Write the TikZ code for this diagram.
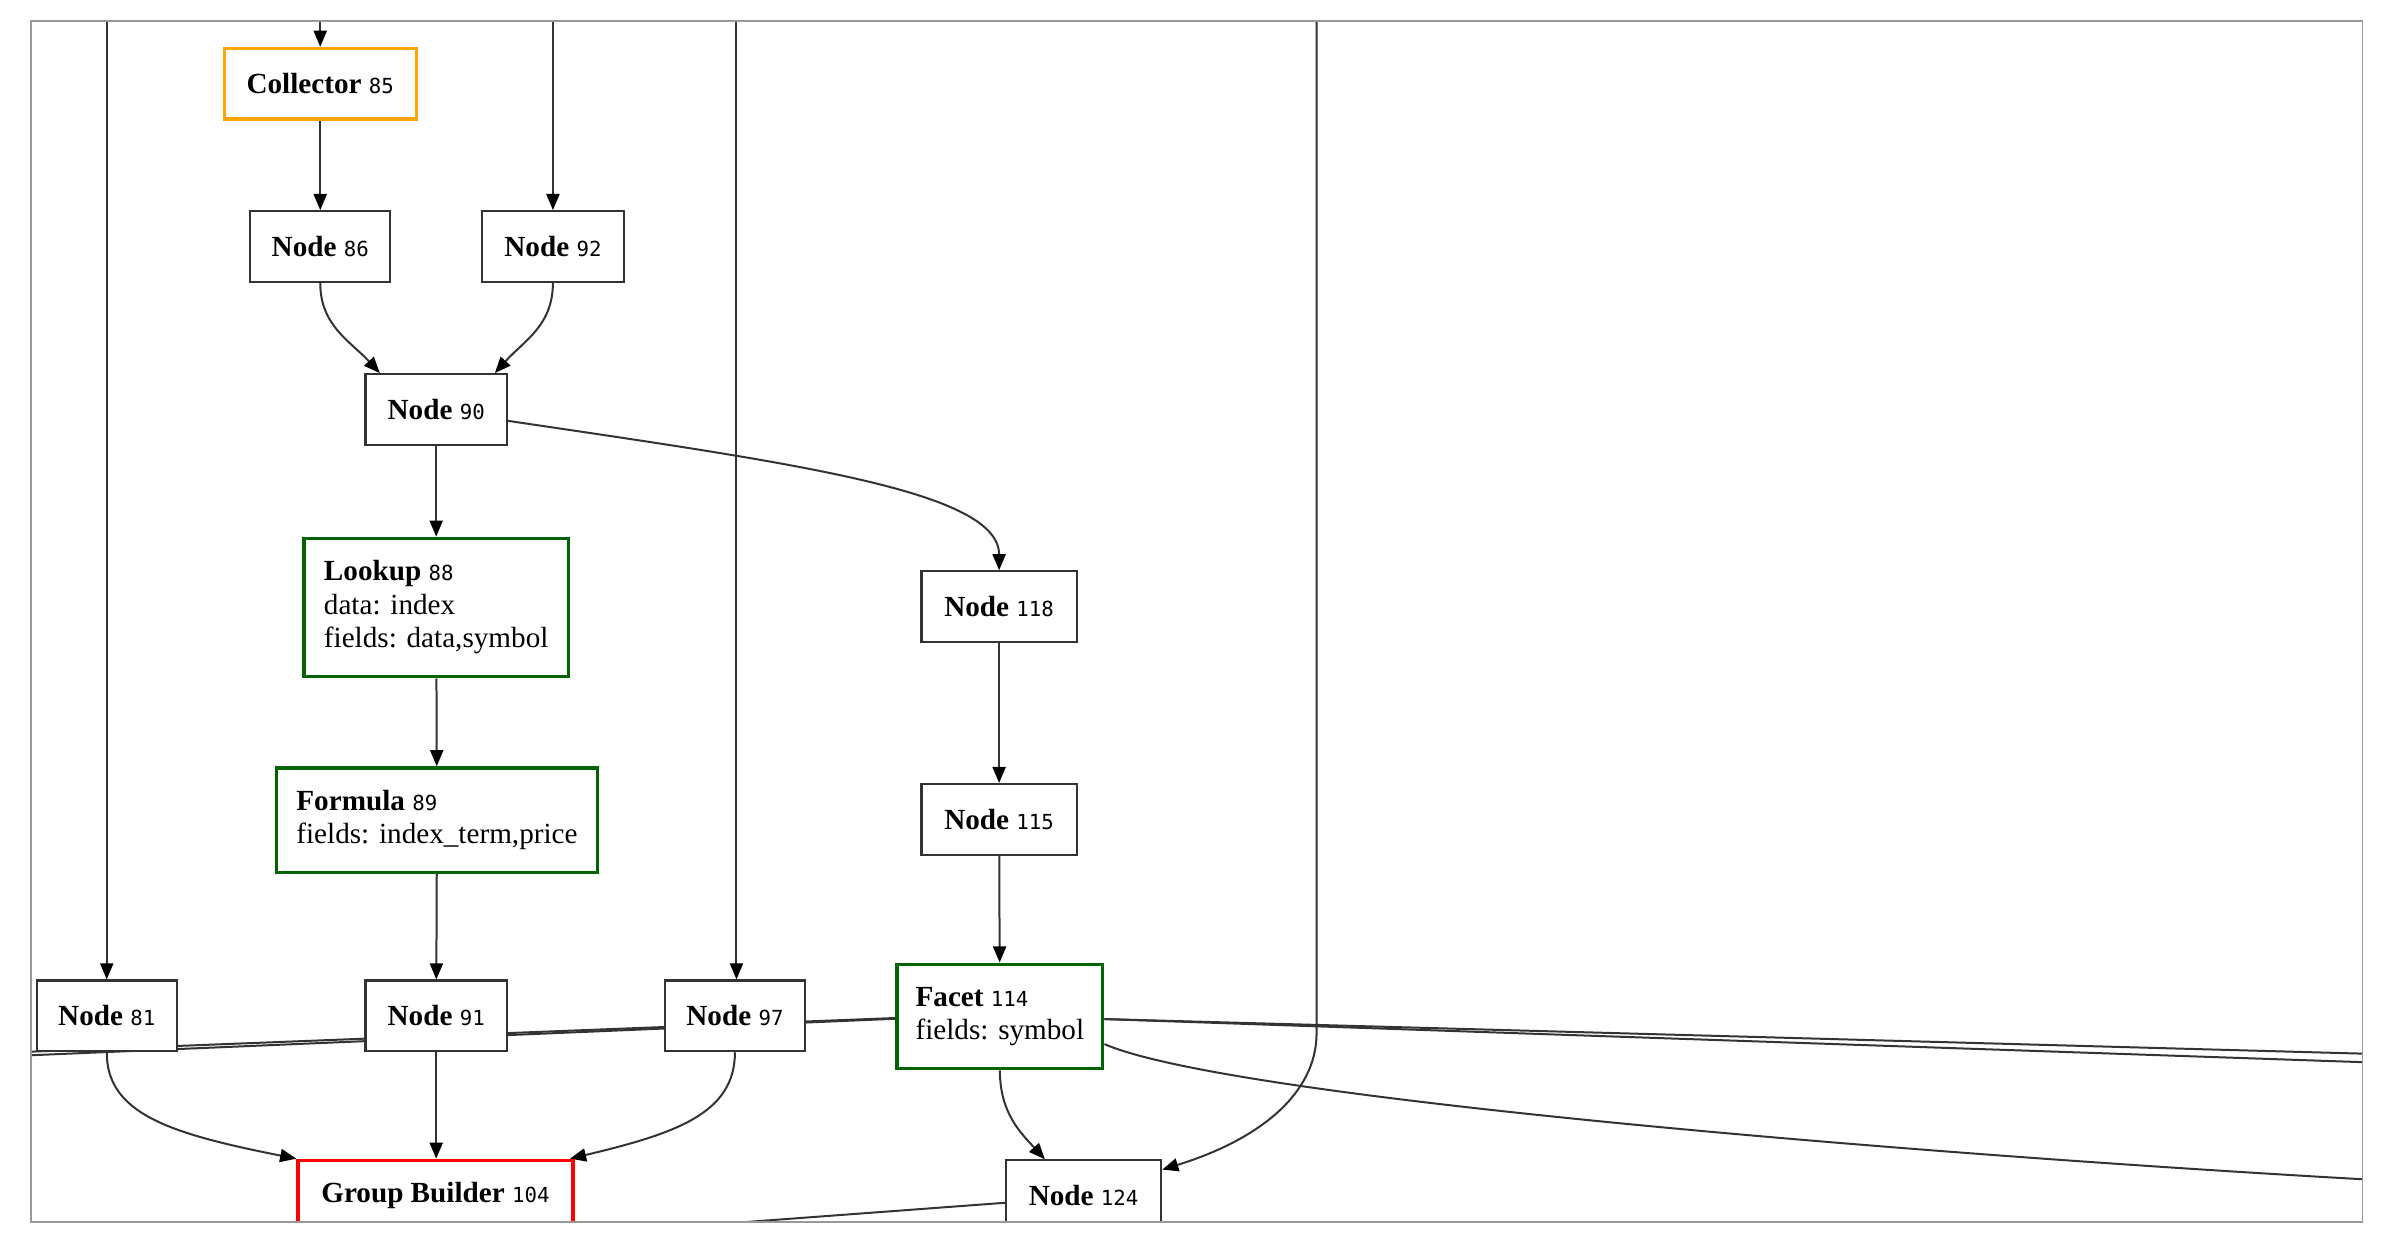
\documentclass[tikz,border=0pt]{standalone}
\usepackage{fontspec}
\setmainfont{Liberation Serif}
\newfontfamily\monof{DejaVu Sans Mono}
\usetikzlibrary{arrows.meta,backgrounds}
\definecolor{edgec}{HTML}{333333}
\definecolor{framec}{HTML}{999999}
\definecolor{orangec}{HTML}{FFA500}
\definecolor{greenc}{HTML}{006400}
\definecolor{redc}{HTML}{FF0000}
\newcommand\lblfont{\fontsize{19}{21.8}\selectfont}
\newcommand\nid[1]{{\monof\fontsize{13.5}{16}\selectfont #1}}
\begin{document}
\begin{tikzpicture}[x=1pt,y=-1pt,
  box/.style={draw=edgec,line width=1.4pt,fill=white,minimum height=46pt,inner sep=0pt,font=\lblfont,align=left},
  orangebox/.style={box,draw=orangec,line width=2.2pt},
  greenbox/.style={box,draw=greenc,line width=2.2pt},
  redbox/.style={box,draw=redc,line width=2.2pt},
  edge/.style={draw=edgec,line width=1.3pt},
  arr/.style={edge,-{Triangle[length=10.5pt,width=8.5pt,fill=black,color=black]}},
]
\useasboundingbox (0,0) rectangle (1560,819);

\begin{scope}
\clip (20.2,13.7) rectangle (1538.2,795.7);
\node[orangebox,minimum width=125pt] (n85) at (208.5,54.6) {\textbf{Collector} \nid{85}};
\node[box,minimum width=91pt] (n86) at (208.5,160.5) {\textbf{Node} \nid{86}};
\node[box,minimum width=92pt] (n92) at (360,160.5) {\textbf{Node} \nid{92}};
\node[box,minimum width=92pt] (n90) at (284,266.6) {\textbf{Node} \nid{90}};
\node[greenbox,minimum width=172pt,minimum height=90pt] (n88) at (284,395.5) {\textbf{Lookup} \nid{88}\\data: index\\fields: data,symbol};
\node[greenbox,minimum width=209pt,minimum height=68pt] (n89) at (284.5,534) {\textbf{Formula} \nid{89}\\fields: index\_term,price};
\node[box,minimum width=101pt] (n118) at (650.5,395) {\textbf{Node} \nid{118}};
\node[box,minimum width=101pt] (n115) at (650.5,533.5) {\textbf{Node} \nid{115}};
\node[greenbox,minimum width=134pt,minimum height=68pt] (n114) at (651,661.8) {\textbf{Facet} \nid{114}\\fields: symbol};
\node[box,minimum width=91pt] (n81) at (69.5,661.4) {\textbf{Node} \nid{81}};
\node[box,minimum width=92pt] (n91) at (284,661.4) {\textbf{Node} \nid{91}};
\node[box,minimum width=91pt] (n97) at (478.5,661.4) {\textbf{Node} \nid{97}};
\node[redbox,minimum width=179pt] (n104) at (283.5,778.5) {\textbf{Group Builder} \nid{104}};
\node[box,minimum width=101pt] (n124) at (705.5,778.5) {\textbf{Node} \nid{124}};
\end{scope}

\coordinate (t81) at (69.5,5);
\coordinate (t85) at (208.5,5);
\coordinate (t92) at (360,5);
\coordinate (t97) at (479.5,5);
\coordinate (t124) at (857.2,5);
\coordinate (L1) at (0,685.5);
\coordinate (L2) at (0,687.9);
\coordinate (R1) at (1560,686.6);
\coordinate (R2) at (1560,692.3);
\coordinate (R3) at (1560,769);
\coordinate (B1) at (380,803.5);

\begin{scope}[on background layer]
\fill[white] (0,0) rectangle (1560,819);
\end{scope}
\begin{scope}[on background layer]
\clip (20.2,13.7) rectangle (1538.2,795.7);
\draw[arr] (t81) -- (n81.north);
\draw[arr] (t85) -- (n85.north);
\draw[arr] (t92) -- (n92.north);
\draw[arr] (t97) -- (t97 |- n97.north);
\draw[arr] (t124) -- (857.2,672.6) .. controls (857.2,712) and (820,742) .. ([yshift=-6.7pt]n124.north east);
\draw[arr] (n85) -- (n86);
\draw[arr] (n86.south) .. controls (208.5,212) and (228,222) .. ([xshift=10pt]n90.north west);
\draw[arr] (n92.south) .. controls (360,212) and (341,222) .. ([xshift=-8.5pt]n90.north east);
\draw[arr] (n90) -- (n88);
\draw[arr] ([yshift=-7.4pt]n90.east) .. controls (520,302) and (650.5,320) .. (n118.north);
\draw[arr] (n88) -- (n89);
\draw[arr] (n89) -- (n91);
\draw[arr] (n118) -- (n115);
\draw[arr] (n115) -- (n114);
\draw[arr] (n114.south) .. controls (651,725) and (665,738) .. ([xshift=26pt]n124.north west);
\draw[arr] (n81.south) .. controls (69.5,725) and (110,738) .. (n104.north west);
\draw[arr] (n91.south) -- (n91.south |- n104.north);
\draw[arr] (n97.south) .. controls (478.5,725) and (440,738) .. ([xshift=-3pt]n104.north east);
\draw[edge] ([yshift=-1pt]n114.west) -- (L1);
\draw[edge] ([yshift=-1.5pt]n114.west) -- (L2);
\draw[edge] ([yshift=-1.7pt]n114.east) -- (R1);
\draw[edge] ([yshift=-1.7pt]n114.east) -- (R2);
\draw[edge] ([yshift=-18pt]n114.east) .. controls (800,715) and (1250,752) .. (R3);
\draw[edge] ([yshift=-4.6pt]n124.west) -- (B1);
\end{scope}

\draw[framec,line width=1.1pt] (20.2,13.7) rectangle (1538.2,795.7);
\end{tikzpicture}
\end{document}
